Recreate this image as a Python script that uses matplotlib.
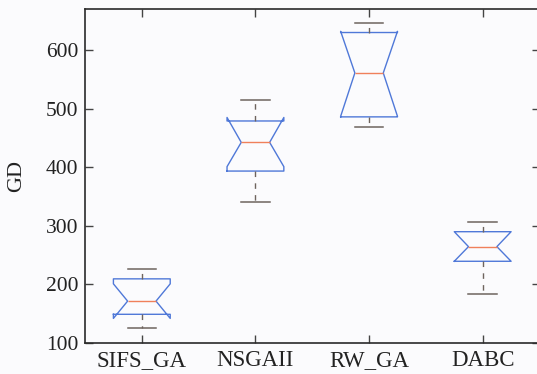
import matplotlib
matplotlib.use("Agg")
import matplotlib.pyplot as plt

categories = ["SIFS_GA", "NSGAII", "RW_GA", "DABC"]
whislo = [126, 340, 469, 184]
q1 = [149, 393.5, 486, 239.5]
med = [171.5, 442.5, 561, 264.5]
q3 = [209.5, 479, 630, 290]
whishi = [225.5, 514.5, 646.5, 306.5]
cilo = [142, 401, 487, 239.5]
cihi = [201, 485, 632, 290]
yticks = [100, 200, 300, 400, 500, 600]

plt.rcParams["font.family"] = ["Liberation Serif", "DejaVu Serif"]

W, H = 537, 374
fig = plt.figure(figsize=(W / 100, H / 100), dpi=100)
fig.patch.set_facecolor("#fbfbfd")
left, right, top, bottom = 85, 539.5, 8.5, 343
ax = fig.add_axes([left / W, 1 - bottom / H, (right - left) / W, (bottom - top) / H])
ax.set_facecolor("#fbfbfd")

stats = []
for i, c in enumerate(categories):
    stats.append(dict(label=c, whislo=whislo[i], q1=q1[i], med=med[i], q3=q3[i],
                      whishi=whishi[i], cilo=cilo[i], cihi=cihi[i], fliers=[]))

blue = "#4f78d8"
ax.bxp(stats, positions=range(1, len(categories) + 1), widths=0.5, capwidths=0.25,
       shownotches=True, showfliers=False,
       boxprops=dict(color=blue, linewidth=1.0),
       medianprops=dict(color="#f0805a", linewidth=1.0),
       whiskerprops=dict(color="#6e645e", linewidth=1.0, linestyle=(0, (4, 4.5))),
       capprops=dict(color="#6e645e", linewidth=1.1))

ax.set_xlim(0.5, 4.5)
ax.set_ylim(100, 671)
ax.set_yticks(yticks)
ax.set_xticks(range(1, len(categories) + 1))
ax.set_xticklabels(categories)
ax.tick_params(direction="in", length=6, width=1.0, color="#444444",
               labelsize=15.5, pad=5, top=True, right=True, labelcolor="#222222")
ax.tick_params(axis="x", labelsize=16.5)
for s in ax.spines.values():
    s.set_linewidth(1.2)
    s.set_color("#2a2a2a")
ax.set_ylabel("GD", fontsize=16, color="#222222", labelpad=14)

fig.savefig("out.png", dpi=100, facecolor=fig.get_facecolor())
